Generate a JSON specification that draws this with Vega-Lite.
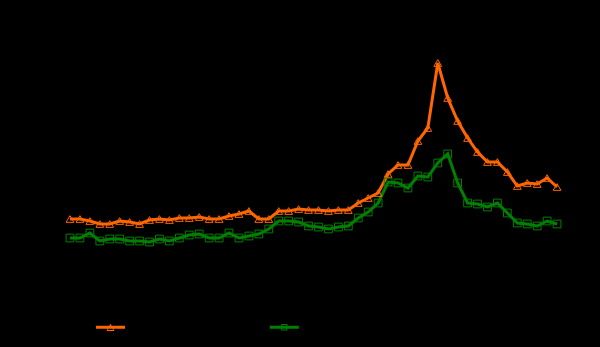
{
  "$schema": "https://vega.github.io/schema/vega-lite/v6.json",
  "width": 600,
  "height": 347,
  "autosize": {"type": "none"},
  "padding": 0,
  "background": "#000000",
  "config": {"view": {"stroke": null}},
  "data": {"values": [
    {"t":0,"s":"Series 1","v":128},{"t":1,"s":"Series 1","v":128},{"t":2,"s":"Series 1","v":126},{"t":3,"s":"Series 1","v":123},{"t":4,"s":"Series 1","v":123},
    {"t":5,"s":"Series 1","v":126},{"t":6,"s":"Series 1","v":125},{"t":7,"s":"Series 1","v":123},{"t":8,"s":"Series 1","v":127},{"t":9,"s":"Series 1","v":128},
    {"t":10,"s":"Series 1","v":127},{"t":11,"s":"Series 1","v":129},{"t":12,"s":"Series 1","v":129},{"t":13,"s":"Series 1","v":130},{"t":14,"s":"Series 1","v":128},
    {"t":15,"s":"Series 1","v":128},{"t":16,"s":"Series 1","v":131},{"t":17,"s":"Series 1","v":133},{"t":18,"s":"Series 1","v":136},{"t":19,"s":"Series 1","v":128},
    {"t":20,"s":"Series 1","v":128},{"t":21,"s":"Series 1","v":136},{"t":22,"s":"Series 1","v":136},{"t":23,"s":"Series 1","v":138},{"t":24,"s":"Series 1","v":137},
    {"t":25,"s":"Series 1","v":137},{"t":26,"s":"Series 1","v":136},{"t":27,"s":"Series 1","v":137},{"t":28,"s":"Series 1","v":137},{"t":29,"s":"Series 1","v":144},
    {"t":30,"s":"Series 1","v":149},{"t":31,"s":"Series 1","v":154},{"t":32,"s":"Series 1","v":173},{"t":33,"s":"Series 1","v":182},{"t":34,"s":"Series 1","v":182},
    {"t":35,"s":"Series 1","v":206},{"t":36,"s":"Series 1","v":219},{"t":37,"s":"Series 1","v":284},{"t":38,"s":"Series 1","v":249},{"t":39,"s":"Series 1","v":226},
    {"t":40,"s":"Series 1","v":209},{"t":41,"s":"Series 1","v":195},{"t":42,"s":"Series 1","v":185},{"t":43,"s":"Series 1","v":185},{"t":44,"s":"Series 1","v":175},
    {"t":45,"s":"Series 1","v":161},{"t":46,"s":"Series 1","v":164},{"t":47,"s":"Series 1","v":163},{"t":48,"s":"Series 1","v":169},{"t":49,"s":"Series 1","v":160},
    {"t":0,"s":"Series 2","v":109},{"t":1,"s":"Series 2","v":109},{"t":2,"s":"Series 2","v":114},{"t":3,"s":"Series 2","v":106},{"t":4,"s":"Series 2","v":108},
    {"t":5,"s":"Series 2","v":108},{"t":6,"s":"Series 2","v":106},{"t":7,"s":"Series 2","v":106},{"t":8,"s":"Series 2","v":105},{"t":9,"s":"Series 2","v":108},
    {"t":10,"s":"Series 2","v":106},{"t":11,"s":"Series 2","v":109},{"t":12,"s":"Series 2","v":112},{"t":13,"s":"Series 2","v":113},{"t":14,"s":"Series 2","v":109},
    {"t":15,"s":"Series 2","v":109},{"t":16,"s":"Series 2","v":114},{"t":17,"s":"Series 2","v":109},{"t":18,"s":"Series 2","v":111},{"t":19,"s":"Series 2","v":113},
    {"t":20,"s":"Series 2","v":118},{"t":21,"s":"Series 2","v":126},{"t":22,"s":"Series 2","v":126},{"t":23,"s":"Series 2","v":125},{"t":24,"s":"Series 2","v":121},
    {"t":25,"s":"Series 2","v":120},{"t":26,"s":"Series 2","v":118},{"t":27,"s":"Series 2","v":120},{"t":28,"s":"Series 2","v":121},{"t":29,"s":"Series 2","v":129},
    {"t":30,"s":"Series 2","v":135},{"t":31,"s":"Series 2","v":144},{"t":32,"s":"Series 2","v":165},{"t":33,"s":"Series 2","v":164},{"t":34,"s":"Series 2","v":159},
    {"t":35,"s":"Series 2","v":171},{"t":36,"s":"Series 2","v":170},{"t":37,"s":"Series 2","v":184},{"t":38,"s":"Series 2","v":193},{"t":39,"s":"Series 2","v":164},
    {"t":40,"s":"Series 2","v":144},{"t":41,"s":"Series 2","v":143},{"t":42,"s":"Series 2","v":140},{"t":43,"s":"Series 2","v":144},{"t":44,"s":"Series 2","v":134},
    {"t":45,"s":"Series 2","v":124},{"t":46,"s":"Series 2","v":123},{"t":47,"s":"Series 2","v":121},{"t":48,"s":"Series 2","v":126},{"t":49,"s":"Series 2","v":123}
  ]},
  "encoding": {
    "x": {"field": "t", "type": "quantitative", "scale": {"domain": [-7.042, 53.32], "nice": false, "zero": false}, "axis": null},
    "y": {"field": "v", "type": "quantitative", "scale": {"domain": [0, 347], "nice": false}, "axis": null}
  },
  "layer": [
    {
      "mark": {"type": "line", "strokeWidth": 3},
      "encoding": {
        "color": {
          "field": "s", "type": "nominal",
          "scale": {"domain": ["Series 1", "Series 2"], "range": ["#ff6600", "#008000"]},
          "legend": {
            "title": null,
            "orient": "none",
            "legendX": 96,
            "legendY": 312.5,
            "direction": "horizontal",
            "columns": 2,
            "padding": 0,
            "symbolSize": 841,
            "symbolType": "M-1,-0.1H1V0.1H-1Z",
            "symbolStrokeWidth": 0,
            "labelFont": "DejaVu Sans Mono",
            "labelFontSize": 10,
            "labelColor": "#000000",
            "labelOffset": 5,
            "columnPadding": 90.8,
            "encode": {
              "symbols": {
                "update": {
                  "shape": {"signal": "datum.value === 'Series 1' ? 'M-1,-0.1H1V0.1H-1Z M0,-0.24L0.28,0.26L-0.28,0.26Z M0,-0.11L-0.19,0.19L0.19,0.19Z' : 'M-1,-0.1H1V0.1H-1Z M-0.22,-0.22H0.22V0.22H-0.22Z M-0.15,-0.15V0.15H0.15V-0.15Z'"},
                  "fill": {"signal": "datum.value === 'Series 1' ? '#ff6600' : '#008000'"},
                  "fillOpacity": {"value": 1},
                  "strokeWidth": {"value": 0}
                }
              }
            }
          }
        }
      }
    },
    {
      "transform": [{"filter": "datum.s === 'Series 1'"}],
      "mark": {"type": "point", "filled": false, "strokeWidth": 1, "size": 60, "opacity": 1, "shape": "triangle-up", "color": "#ff6600"}
    },
    {
      "transform": [{"filter": "datum.s === 'Series 2'"}],
      "mark": {"type": "point", "filled": false, "strokeWidth": 1, "size": 60, "opacity": 1, "shape": "square", "color": "#008000"}
    }
  ]
}
